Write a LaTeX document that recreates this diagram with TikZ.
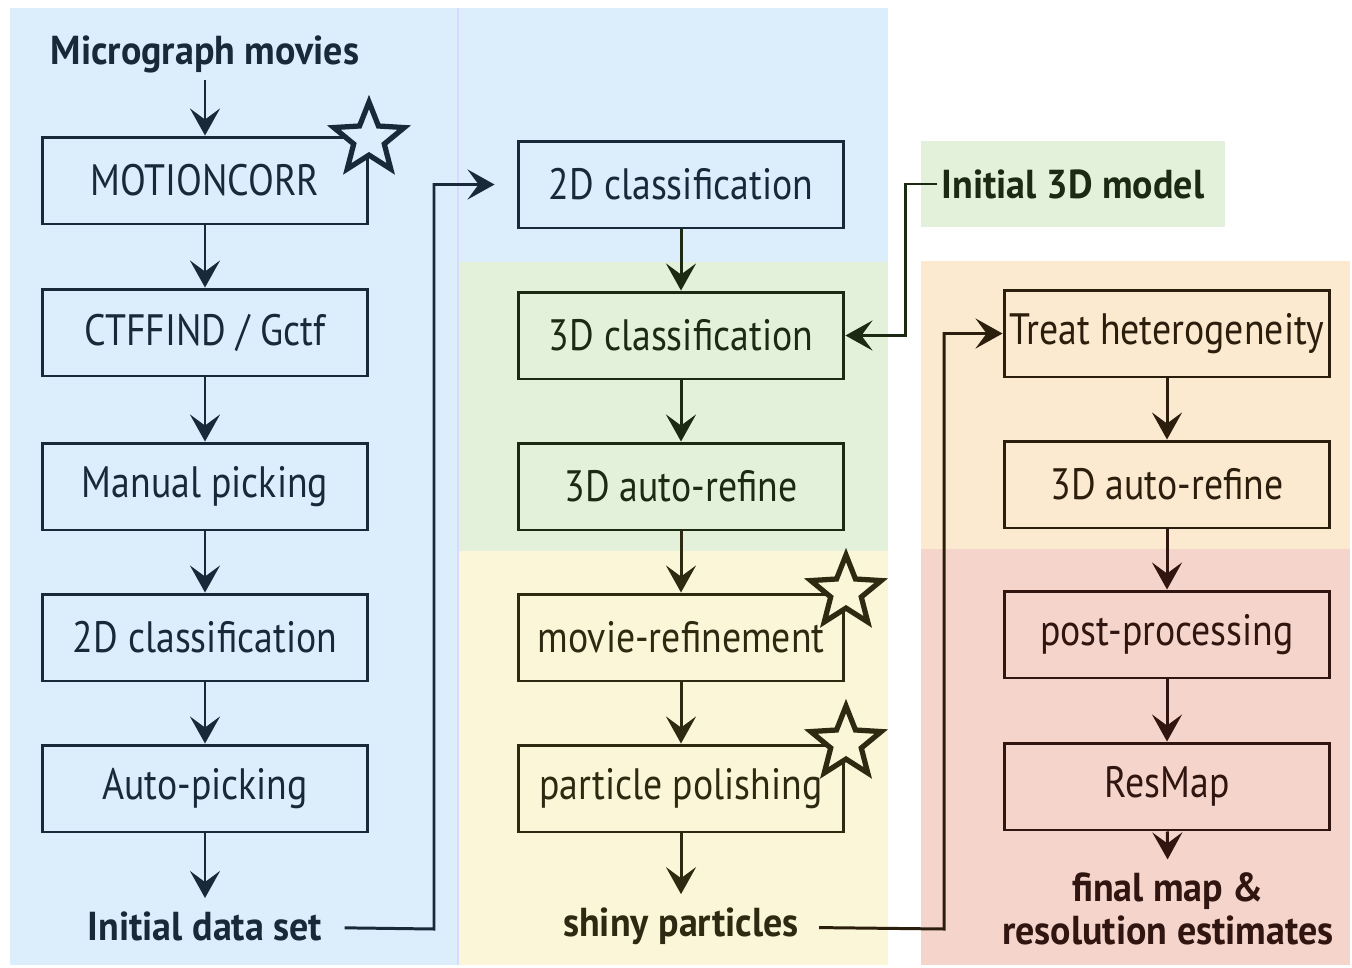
\documentclass[tikz,border=0pt]{standalone}
\usepackage{fontspec}
\setmainfont{PT Sans}
\newfontfamily\boxfont{PT Sans}[FakeStretch=0.86]
\newfontfamily\tagfont{PT Sans}[FakeStretch=0.94]
\usetikzlibrary{arrows.meta,shapes.geometric}

\definecolor{bgblue}{HTML}{DCEEFC}
\definecolor{bggreen}{HTML}{E3F0DA}
\definecolor{bgyellow}{HTML}{FCF6D8}
\definecolor{bgorange}{HTML}{FBE9D0}
\definecolor{bgpink}{HTML}{F5D5CB}
\definecolor{navy}{HTML}{19293A}
\definecolor{dkgreen}{HTML}{1C2A14}
\definecolor{dkolive}{HTML}{2E2A12}
\definecolor{dkbrown}{HTML}{2C1E0C}
\definecolor{dkred}{HTML}{301510}

\begin{document}
\begin{tikzpicture}
  [x=0.02cm,y=-0.02cm,
   box/.style={draw,line width=1.7pt,minimum width=6.52cm,minimum height=1.74cm,inner sep=0pt,font=\boxfont\fontsize{25}{28}\selectfont},
   tag/.style={inner sep=0pt,font=\tagfont\bfseries\fontsize{23}{24.5}\selectfont},
   arr/.style={line width=1.7pt,-{Stealth[length=0.54cm,width=0.6cm,inset=0.22cm]}},
   starmark/.style={star,star points=5,star point ratio=2.3,minimum size=1.48cm,line width=3pt,inner sep=0pt}]
  \useasboundingbox (0,0) rectangle (1352,967);

  % coloured areas
  \fill[bgblue] (10,8) rectangle (458,965);
  \fill[bgblue] (458,8) rectangle (888,262);
  \fill[bggreen] (458,262) rectangle (888,551);
  \fill[bgyellow] (458,551) rectangle (888,965);
  \fill[bggreen] (921,141) rectangle (1225,227);
  \fill[bgorange] (921,261) rectangle (1350,549);
  \fill[bgpink] (921,549) rectangle (1350,965);
  \draw[blue!15,line width=0.6pt] (458,8) -- (458,965);

  % left column
  \node[tag,text=navy] (mm) at (205,54) {Micrograph movies};
  \node[box,draw=navy,text=navy] (mc) at (205,180.5) {MOTIONCORR};
  \node[box,draw=navy,text=navy] (ctf) at (205,332.5) {CTFFIND / Gctf};
  \node[box,draw=navy,text=navy] (man) at (205,486.5) {Manual picking};
  \node[box,draw=navy,text=navy] (cl2a) at (205,637.5) {2D classification};
  \node[box,draw=navy,text=navy] (ap) at (205,788.5) {Auto-picking};
  \node[tag,text=navy] (ids) at (205,926) {Initial data set};

  % middle column
  \node[box,draw=navy,text=navy] (cl2b) at (681,184.5) {2D classification};
  \node[box,draw=dkgreen,text=dkgreen] (cl3) at (681,335.5) {3D classification};
  \node[box,draw=dkgreen,text=dkgreen] (ref1) at (681,486.5) {3D auto-refine};
  \node[box,draw=dkolive,text=dkolive] (mr) at (681,637.5) {movie-refinement};
  \node[box,draw=dkolive,text=dkolive] (pp) at (681,788.5) {particle polishing};
  \node[tag,text=dkolive] (sp) at (681,926) {shiny particles};

  % right column
  \node[tag,text=dkgreen] (im) at (1073,184) {Initial 3D model};
  \node[box,draw=dkbrown,text=dkbrown] (th) at (1167,333.5) {Treat heterogeneity};
  \node[box,draw=dkbrown,text=dkbrown] (ref2) at (1167,484.5) {3D auto-refine};
  \node[box,draw=dkred,text=dkred] (post) at (1167,634.5) {post-processing};
  \node[box,draw=dkred,text=dkred] (rm) at (1167,786.5) {ResMap};
  \node[tag,text=dkred,align=center] (fm) at (1168,909) {final map \&\\resolution estimates};

  % stars
  \node[starmark,draw=navy,fill=bgblue] (s1) at (369,139) {};
  \node[starmark,draw=dkolive,fill=bgyellow] (s2) at (846,592) {};
  \node[starmark,draw=dkolive,fill=bgyellow] (s3) at (846,743) {};

  % flow
  \draw[arr,navy,shorten <=0.14cm] (mm) -- (mc);
  \foreach \from/\to in {mc/ctf, ctf/man, man/cl2a, cl2a/ap}
    \draw[arr,navy] (\from) -- (\to);
  \draw[arr,navy,shorten >=0.26cm] (ap) -- (ids);
  \draw[arr,dkgreen] (cl2b) -- (cl3);
  \draw[arr,dkgreen] (cl3) -- (ref1);
  \foreach \from/\to in {ref1/mr, mr/pp}
    \draw[arr,dkolive] (\from) -- (\to);
  \draw[arr,dkolive,shorten >=0.26cm] (pp) -- (sp);
  \draw[arr,dkbrown] (th) -- (ref2);
  \draw[arr,dkred] (ref2) -- (post);
  \draw[arr,dkred] (post) -- (rm);
  \draw[arr,dkred,shorten >=0.26cm] (rm) -- (fm);

  % cross links
  \coordinate (j1) at (434,929);
  \coordinate (j2) at (944,929);
  \coordinate (j3) at (905,184);
  \draw[arr,navy,shorten <=0.44cm,shorten >=0.44cm] (ids) -- (j1) |- (cl2b);
  \draw[arr,dkbrown,shorten <=0.4cm] (sp) -- (j2) |- (th);
  \draw[arr,dkgreen,shorten <=0.08cm] (im) -- (j3) |- (cl3);
\end{tikzpicture}
\end{document}
